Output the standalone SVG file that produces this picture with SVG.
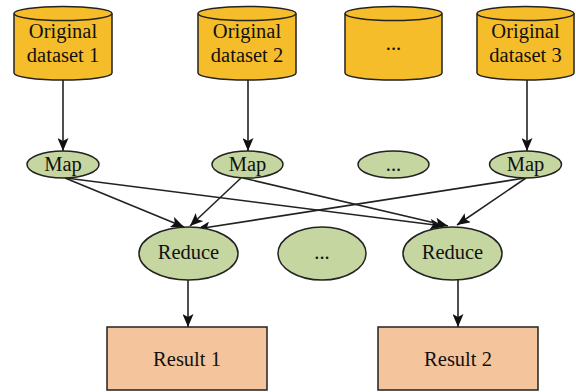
<svg xmlns="http://www.w3.org/2000/svg" width="576" height="392" viewBox="0 0 576 392">
<style>
.cyl{fill:#F5BD29;stroke:#222;stroke-width:1.5}
.ell{fill:#C5D6A0;stroke:#222;stroke-width:1.5}
.res{fill:#F4C49C;stroke:#222;stroke-width:1.5}
.t{font-family:"Liberation Serif","Times New Roman",serif;font-size:20.5px;fill:#111;text-anchor:middle}
.c{stroke:#222;stroke-width:1.6;fill:none;marker-end:url(#ah)}
</style>
<defs>
<marker id="ah" viewBox="0 0 13 11" refX="13" refY="5.5" markerWidth="13" markerHeight="11" markerUnits="userSpaceOnUse" orient="auto">
<path d="M0,0 L13,5.5 L0,11 L3,5.5 Z" fill="#111"/>
</marker>
</defs>
<rect width="576" height="392" fill="#fff"/>
<g id="connectors">
<line class="c" x1="63" y1="80" x2="63" y2="151"/>
<line class="c" x1="248" y1="80" x2="248" y2="151"/>
<line class="c" x1="527" y1="80" x2="527" y2="151"/>
<line class="c" x1="65" y1="178" x2="184" y2="227"/>
<line class="c" x1="66" y1="178" x2="443" y2="226"/>
<line class="c" x1="241" y1="178" x2="190" y2="226"/>
<line class="c" x1="243" y1="178" x2="448" y2="226"/>
<line class="c" x1="525" y1="178" x2="197" y2="229"/>
<line class="c" x1="526" y1="178" x2="457" y2="225"/>
<line class="c" x1="188" y1="280" x2="188" y2="327"/>
<line class="c" x1="458" y1="280" x2="458" y2="327"/>
</g>
<g id="ds1">
<path class="cyl" d="M14,13.5 V73 A49,7 0 0 0 112,73 V13.5"/>
<ellipse class="cyl" cx="63" cy="13.5" rx="49" ry="7"/>
<text class="t" x="63" y="38">Original</text>
<text class="t" x="63" y="62">dataset 1</text>
</g>
<g id="ds2">
<path class="cyl" d="M198,13.5 V73 A49,7 0 0 0 296,73 V13.5"/>
<ellipse class="cyl" cx="247" cy="13.5" rx="49" ry="7"/>
<text class="t" x="247" y="38">Original</text>
<text class="t" x="247" y="62">dataset 2</text>
</g>
<g id="dsdots">
<path class="cyl" d="M345,13.5 V73 A48.5,7 0 0 0 442,73 V13.5"/>
<ellipse class="cyl" cx="393.5" cy="13.5" rx="48.5" ry="7"/>
<text class="t" x="393.5" y="50">...</text>
</g>
<g id="ds3">
<path class="cyl" d="M477,13.5 V73 A48.5,7 0 0 0 574,73 V13.5"/>
<ellipse class="cyl" cx="525.5" cy="13.5" rx="48.5" ry="7"/>
<text class="t" x="525.5" y="38">Original</text>
<text class="t" x="525.5" y="62">dataset 3</text>
</g>
<g id="map1"><ellipse class="ell" cx="63" cy="164.5" rx="36" ry="13.5"/><text class="t" x="63" y="171">Map</text></g>
<g id="map2"><ellipse class="ell" cx="247.5" cy="164.5" rx="35.5" ry="13.5"/><text class="t" x="247.5" y="171">Map</text></g>
<g id="mapdots"><ellipse class="ell" cx="393.5" cy="164.5" rx="35.5" ry="13.5"/><text class="t" x="393.5" y="171">...</text></g>
<g id="map3"><ellipse class="ell" cx="525.5" cy="164.5" rx="36" ry="13.5"/><text class="t" x="525.5" y="171">Map</text></g>
<g id="reduce1"><ellipse class="ell" cx="188.5" cy="253.5" rx="49.5" ry="26.5"/><text class="t" x="188.5" y="259">Reduce</text></g>
<g id="reducedots"><ellipse class="ell" cx="322" cy="253.5" rx="44" ry="26.5"/><text class="t" x="322" y="259">...</text></g>
<g id="reduce2"><ellipse class="ell" cx="452.5" cy="253.5" rx="49.5" ry="26.5"/><text class="t" x="452.5" y="259">Reduce</text></g>
<g id="result1"><rect class="res" x="107" y="327" width="160" height="63"/><text class="t" x="187" y="366">Result 1</text></g>
<g id="result2"><rect class="res" x="378" y="327" width="160" height="63"/><text class="t" x="458" y="366">Result 2</text></g>
</svg>
